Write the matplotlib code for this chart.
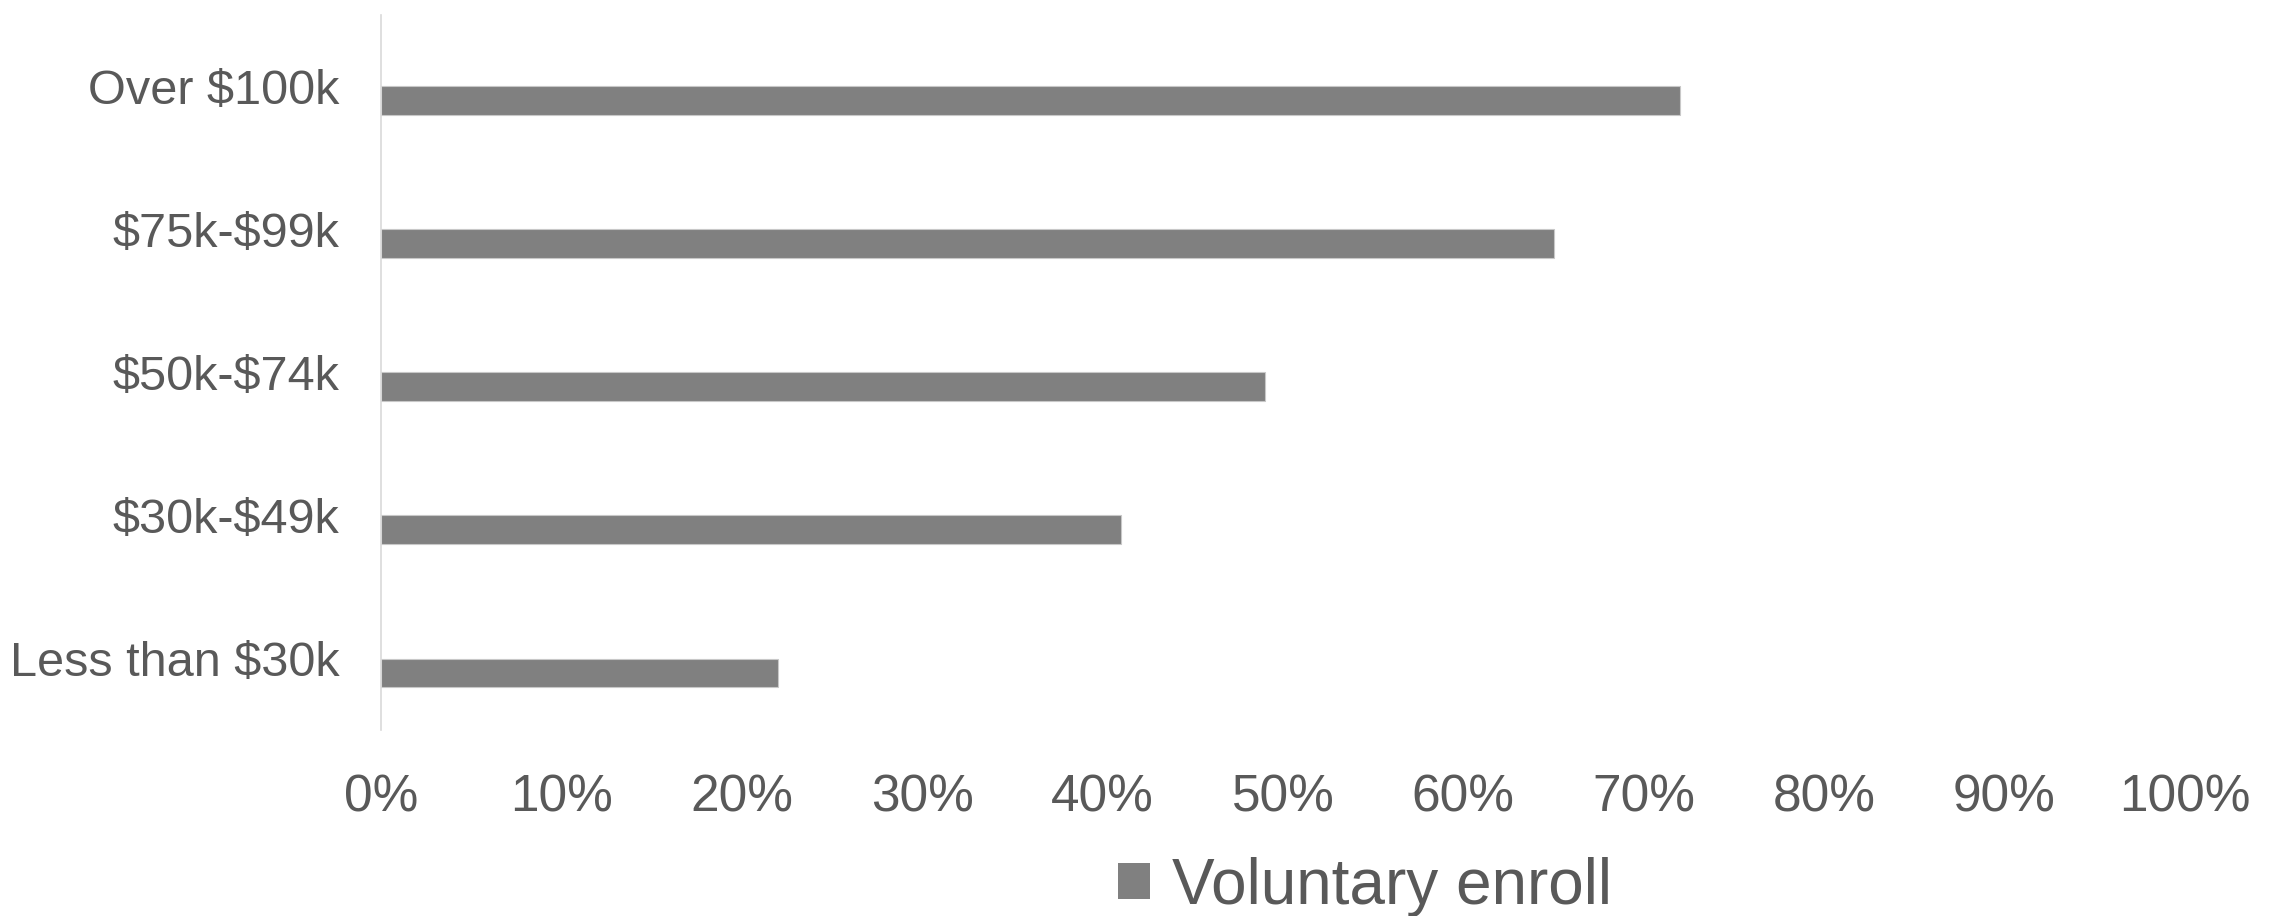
import matplotlib
matplotlib.use("Agg")
import matplotlib.pyplot as plt
from matplotlib.patches import Patch
from matplotlib.ticker import PercentFormatter

categories = ["Less than $30k", "$30k-$49k", "$50k-$74k", "$75k-$99k", "Over $100k"]
voluntary_enroll = [22, 41, 49, 65, 72]
x_ticks = [0, 10, 20, 30, 40, 50, 60, 70, 80, 90, 100]

TEXT = "#595959"
BAR = "#808080"

plt.rcParams["font.family"] = ["Liberation Sans", "DejaVu Sans"]
plt.rcParams["text.parse_math"] = False

fig = plt.figure(figsize=(22.75, 9.16), dpi=100)
ax = fig.add_axes([0.1675, 0.203, 0.7929, 0.781])

ypos = list(range(len(categories)))
# bar sits in the lower half of each category slot (empty second series above)
ax.barh([y - 0.1 for y in ypos], voluntary_enroll, height=0.2,
        color=BAR, edgecolor="#c8c8c8", linewidth=0.8)

ax.set_xlim(0, 100)
ax.set_ylim(-0.5, len(categories) - 0.5)
ax.set_xticks(x_ticks)
ax.xaxis.set_major_formatter(PercentFormatter(decimals=0))
ax.set_yticks(ypos)
ax.set_yticklabels(categories)

for s in ["top", "right", "bottom"]:
    ax.spines[s].set_visible(False)
ax.spines["left"].set_color("#d9d9d9")
ax.spines["left"].set_linewidth(1.2)

ax.tick_params(axis="x", length=0, pad=31, labelsize=37, labelcolor=TEXT)
ax.tick_params(axis="y", length=0, pad=30, labelsize=35, labelcolor=TEXT)

handle = Patch(facecolor=BAR, edgecolor="none")
fig.legend([handle], ["Voluntary enroll"], loc="center", bbox_to_anchor=(0.6, 0.032),
           frameon=False, fontsize=46, labelcolor=TEXT, handlelength=0.5,
           handleheight=0.5, handletextpad=0.35)

fig.savefig("out.png", dpi=100)
